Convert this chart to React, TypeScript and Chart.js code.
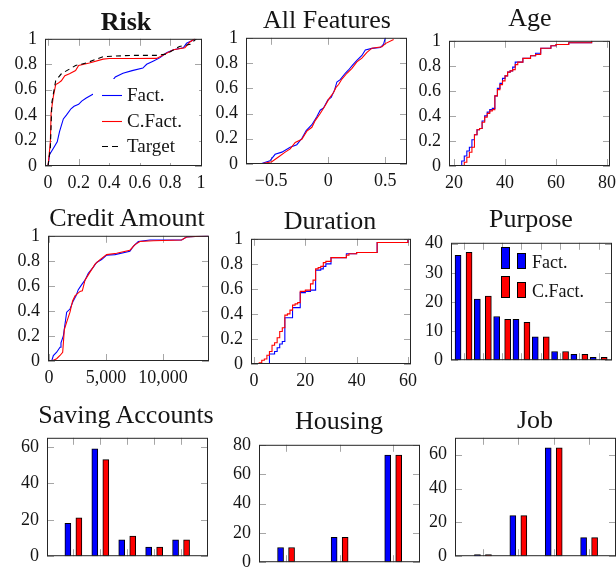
import React, { useEffect, useRef } from 'react';
import { Chart, registerables } from 'chart.js';

Chart.register(...registerables);

const SERIF = "'Liberation Serif', 'Times New Roman', serif";
const INK = '#151515';
const FRAME = '#262626';
const TICKMARK = '#a6a6a6';
const BLUE = '#0000ff';
const RED = '#ff0000';
const TARGET = '#000000';

const SERIES = ['Fact.', 'C.Fact.', 'Target'];

// ---------- Risk ----------
const riskFactX = [0, 0.01, 0.035, 0.06, 0.075, 0.1, 0.12, 0.15, 0.17, 0.2, 0.22, 0.25, 0.296, 0.42, 0.44, 0.49, 0.55, 0.62, 0.645, 0.69, 0.73, 0.775, 0.82, 0.885, 0.906, 0.95, 0.96];
const riskFactY = [0, 0.09, 0.14, 0.19, 0.27, 0.37, 0.4, 0.45, 0.47, 0.485, 0.51, 0.535, 0.566, 0.67, 0.7, 0.73, 0.75, 0.77, 0.8, 0.826, 0.85, 0.89, 0.914, 0.93, 0.965, 0.99, 1.0];
const riskCfX = [0, 0.015, 0.02, 0.035, 0.05, 0.065, 0.087, 0.11, 0.14, 0.18, 0.2, 0.27, 0.36, 0.4, 0.55, 0.71, 0.75, 0.82, 0.895, 0.93, 0.96];
const riskCfY = [0, 0.19, 0.42, 0.55, 0.64, 0.65, 0.67, 0.71, 0.725, 0.75, 0.79, 0.81, 0.84, 0.845, 0.845, 0.846, 0.87, 0.914, 0.93, 0.977, 1.0];
const riskTargetX = [0, 0.015, 0.025, 0.035, 0.05, 0.087, 0.18, 0.25, 0.36, 0.55, 0.71, 0.775, 0.86, 0.93, 0.97];
const riskTargetY = [0, 0.14, 0.5, 0.57, 0.67, 0.725, 0.79, 0.81, 0.86, 0.87, 0.87, 0.88, 0.94, 0.957, 1.0];
const riskXTicks = [0, 0.2, 0.4, 0.6, 0.8, 1];

// ---------- All Features ----------
const allFactX = [-0.596, -0.51, -0.465, -0.406, -0.333, -0.275, -0.23, -0.193, -0.143, -0.1, -0.07, -0.041, -0.003, 0.026, 0.056, 0.076, 0.105, 0.149, 0.178, 0.213, 0.251, 0.295, 0.325, 0.383, 0.456, 0.485, 0.5];
const allFactY = [0, 0.026, 0.077, 0.094, 0.133, 0.153, 0.204, 0.265, 0.311, 0.375, 0.426, 0.444, 0.508, 0.528, 0.587, 0.65, 0.668, 0.719, 0.745, 0.783, 0.821, 0.86, 0.903, 0.916, 0.923, 0.949, 1.0];
const allCfX = [-0.596, -0.494, -0.436, -0.377, -0.333, -0.289, -0.231, -0.187, -0.143, -0.114, -0.07, -0.026, 0.009, 0.047, 0.067, 0.091, 0.12, 0.164, 0.208, 0.251, 0.295, 0.339, 0.383, 0.471, 0.5, 0.573];
const allCfY = [0, 0.018, 0.056, 0.094, 0.12, 0.171, 0.196, 0.26, 0.291, 0.344, 0.4, 0.464, 0.52, 0.566, 0.605, 0.63, 0.673, 0.719, 0.758, 0.809, 0.839, 0.885, 0.918, 0.929, 0.954, 0.987];
const allXTicks = [-0.5, 0, 0.5];

// ---------- Age ----------
const ageFactX = [22, 23, 24, 25, 26, 27, 28, 29, 30, 31, 32, 33, 34, 35, 36, 37, 38, 39, 40, 41, 42, 43, 44, 47, 50, 52, 54, 58, 60, 65, 74];
const ageFactY = [0, 0.04, 0.08, 0.12, 0.15, 0.21, 0.25, 0.29, 0.3, 0.36, 0.4, 0.43, 0.45, 0.46, 0.56, 0.62, 0.66, 0.7, 0.72, 0.75, 0.76, 0.79, 0.83, 0.86, 0.88, 0.9, 0.94, 0.96, 0.97, 0.985, 1.0];
const ageCfX = [23.5, 24, 25, 26, 27, 28, 29, 30, 31, 32, 33, 34, 35, 36, 37, 38, 39, 40, 41, 42, 43, 44, 45, 47, 50, 52, 54, 58, 60, 65, 74];
const ageCfY = [0, 0.03, 0.07, 0.11, 0.15, 0.25, 0.29, 0.3, 0.35, 0.39, 0.42, 0.44, 0.45, 0.56, 0.61, 0.65, 0.68, 0.72, 0.75, 0.76, 0.77, 0.81, 0.83, 0.86, 0.88, 0.89, 0.94, 0.96, 0.97, 0.985, 1.0];
const ageXTicks = [20, 40, 60, 80];

// ---------- Credit Amount ----------
const creditFactX = [235, 380, 670, 965, 1050, 1257, 1550, 1840, 2130, 2370, 2570, 2870, 3160, 3450, 3890, 4180, 4620, 5060, 5790, 7100, 7400, 7840, 8860, 11640, 12080, 14000];
const creditFactY = [0, 0.044, 0.07, 0.11, 0.146, 0.2, 0.39, 0.415, 0.48, 0.52, 0.57, 0.61, 0.646, 0.7, 0.75, 0.787, 0.81, 0.846, 0.85, 0.877, 0.915, 0.954, 0.967, 0.967, 0.99, 1.0];
const creditCfX = [235, 670, 965, 1200, 1345, 1550, 1840, 2070, 2280, 2720, 2925, 3160, 3600, 4040, 4480, 5060, 5940, 7100, 7550, 7990, 9160, 11640, 12080, 14000];
const creditCfY = [0, 0.018, 0.044, 0.07, 0.25, 0.31, 0.39, 0.48, 0.52, 0.556, 0.56, 0.646, 0.71, 0.774, 0.81, 0.85, 0.86, 0.885, 0.93, 0.954, 0.96, 0.967, 0.99, 1.0];
const creditXTicks = [0, 5000, 10000];

// ---------- Duration ----------
const durFactX = [5.5, 6, 8, 9, 10, 11, 12, 15, 18, 20, 22, 24, 26, 27, 28, 30, 36, 40, 48, 60];
const durFactY = [0, 0.08, 0.1, 0.13, 0.16, 0.18, 0.37, 0.45, 0.57, 0.58, 0.59, 0.75, 0.76, 0.78, 0.8, 0.85, 0.88, 0.89, 0.97, 0.99];
const durCfX = [1.5, 2, 3, 4, 5, 6, 7, 8, 9, 10, 11, 12, 13, 14, 15, 16, 17, 18, 20, 22, 23, 24, 25, 26, 27, 28, 30, 36, 37, 40, 48, 60];
const durCfY = [0, 0.01, 0.03, 0.04, 0.07, 0.1, 0.15, 0.17, 0.21, 0.26, 0.29, 0.39, 0.4, 0.43, 0.47, 0.48, 0.49, 0.58, 0.59, 0.64, 0.67, 0.76, 0.77, 0.78, 0.81, 0.82, 0.85, 0.87, 0.88, 0.89, 0.97, 0.99];
const durXTicks = [0, 20, 40, 60];

const unitTicks = [0, 0.2, 0.4, 0.6, 0.8, 1];

// ---------- Bar panels ----------
const purposeFact = [36, 21, 15, 14, 8, 3, 2, 1];
const purposeCFact = [37, 22, 14, 13, 8, 3, 2, 1];
const purposeYTicks = [0, 10, 20, 30, 40];

const savingFact = [18, 59, 9, 5, 9];
const savingCFact = [21, 53, 11, 5, 9];
const savingYTicks = [0, 20, 40, 60];

const housingFact = [10, 17, 73];
const housingCFact = [10, 17, 73];
const housingYTicks = [0, 20, 40, 60, 80];

const jobFact = [1, 24, 64, 11];
const jobCFact = [1, 24, 64, 11];
const jobYTicks = [0, 20, 40, 60];

// ---------- layout constants ----------
const ML = 46;
const MT = 14;
const MR = 16;
const TICK_FONT = 18;
const TICK_LEN = 7;
const BAR_W = 6;
const BAR_HALF_GAP = 5.5;

type Box = { l: number; t: number; r: number; b: number };
type Cfg = {
  title: string;
  bold?: boolean;
  tx: number;
  ty: number;
  box: Box;
  kind: 'line' | 'bar';
  x: [number, number];
  y: [number, number];
  xTicks: number[];
  yTicks: number[];
  xLabels: boolean;
  xFmt: (v: number) => string;
  datasets: any[];
  legend?: (ctx: CanvasRenderingContext2D) => void;
};

const fmtPlain = (v: number) => (v < 0 ? '\u2212' + String(-v) : String(v));
const fmtThousands = (v: number) => v.toLocaleString('en-US');

const pts = (xs: number[], ys: number[]) => xs.map((x, i) => ({ x, y: ys[i] }));

function lineDs(label: string, xs: number[], ys: number[], color: string, order: number, extra: any = {}) {
  return {
    label,
    data: pts(xs, ys),
    borderColor: color,
    backgroundColor: color,
    borderWidth: 1.1,
    pointRadius: 0,
    fill: false,
    tension: 0,
    order,
    ...extra,
  };
}

function barSets(fact: number[], cfact: number[], box: Box, x: [number, number]) {
  const off = (BAR_HALF_GAP * (x[1] - x[0])) / (box.r - box.l);
  const mk = (label: string, vals: number[], color: string, sign: number) => ({
    label,
    data: vals.map((v, i) => ({ x: i + sign * off, y: v })),
    backgroundColor: color,
    borderColor: '#000',
    borderWidth: 1,
    borderSkipped: false,
    barThickness: BAR_W,
    grouped: false,
  });
  return [mk(SERIES[0], fact, BLUE, -1), mk(SERIES[1], cfact, RED, 1)];
}

const riskLegend = (ctx: CanvasRenderingContext2D) => {
  ctx.fillStyle = '#fff';
  ctx.fillRect(93, 79, 106, 84);
  const rows: [string, string, number[], number][] = [
    [SERIES[0], BLUE, [], 95],
    [SERIES[1], RED, [], 121],
    [SERIES[2], TARGET, [6, 4], 146],
  ];
  ctx.font = `19px ${SERIF}`;
  ctx.textBaseline = 'alphabetic';
  ctx.textAlign = 'left';
  for (const [label, color, dash, y] of rows) {
    ctx.strokeStyle = color;
    ctx.lineWidth = 1.1;
    ctx.setLineDash(dash);
    ctx.beginPath();
    ctx.moveTo(102, y + 0.5);
    ctx.lineTo(122, y + 0.5);
    ctx.stroke();
    ctx.setLineDash([]);
    ctx.fillStyle = INK;
    ctx.fillText(label, 127, y + 6);
  }
};

const purposeLegend = (ctx: CanvasRenderingContext2D) => {
  const rows: [string, string, number][] = [
    [SERIES[0], BLUE, 247],
    [SERIES[1], RED, 276],
  ];
  ctx.font = `18px ${SERIF}`;
  ctx.textBaseline = 'alphabetic';
  ctx.textAlign = 'left';
  for (const [label, color, top] of rows) {
    ctx.fillStyle = color;
    ctx.strokeStyle = '#000';
    ctx.lineWidth = 1;
    ctx.fillRect(501, top, 9, 22);
    ctx.strokeRect(501.5, top + 0.5, 8, 21);
    ctx.fillRect(517, top + 6, 9, 16);
    ctx.strokeRect(517.5, top + 6.5, 8, 15);
    ctx.fillStyle = INK;
    ctx.fillText(label, 532, top + 21);
  }
};

const riskBox: Box = { l: 45, t: 34, r: 202, b: 166 };
const allBox: Box = { l: 246, t: 33, r: 407, b: 164 };
const ageBox: Box = { l: 449, t: 36, r: 610, b: 166 };
const creditBox: Box = { l: 48, t: 231, r: 209, b: 361 };
const durBox: Box = { l: 251, t: 234, r: 411, b: 364 };
const purposeBox: Box = { l: 451, t: 238, r: 612, b: 367 };
const savingBox: Box = { l: 47, t: 433, r: 208, b: 563 };
const housingBox: Box = { l: 259, t: 440, r: 420, b: 569 };
const jobBox: Box = { l: 455, t: 433, r: 616, b: 563 };

const purposeX: [number, number] = [-0.65, 7.69];
const savingX: [number, number] = [-0.98, 5.0];
const housingX: [number, number] = [-0.505, 2.5];
const jobX: [number, number] = [-0.79, 3.76];

const PANELS: Cfg[] = [
  {
    title: 'Risk', bold: true, tx: 126, ty: 20, box: riskBox, kind: 'line',
    x: [-0.02, 1.007], y: [0, 1], xTicks: riskXTicks, yTicks: unitTicks, xLabels: true, xFmt: fmtPlain,
    datasets: [
      lineDs(SERIES[0], riskFactX, riskFactY, BLUE, 2),
      lineDs(SERIES[1], riskCfX, riskCfY, RED, 1),
      lineDs(SERIES[2], riskTargetX, riskTargetY, TARGET, 0, { borderDash: [5, 4] }),
    ],
    legend: riskLegend,
  },
  {
    title: 'All Features', tx: 327, ty: 18, box: allBox, kind: 'line',
    x: [-0.72, 0.69], y: [0, 1], xTicks: allXTicks, yTicks: unitTicks, xLabels: true, xFmt: fmtPlain,
    datasets: [lineDs(SERIES[0], allFactX, allFactY, BLUE, 2), lineDs(SERIES[1], allCfX, allCfY, RED, 1)],
  },
  {
    title: 'Age', tx: 530, ty: 16, box: ageBox, kind: 'line',
    x: [18, 81.2], y: [0, 1], xTicks: ageXTicks, yTicks: unitTicks, xLabels: true, xFmt: fmtPlain,
    datasets: [
      lineDs(SERIES[0], ageFactX, ageFactY, BLUE, 2, { stepped: true }),
      lineDs(SERIES[1], ageCfX, ageCfY, RED, 1, { stepped: true }),
    ],
  },
  {
    title: 'Credit Amount', tx: 127, ty: 216, box: creditBox, kind: 'line',
    x: [-90, 14050], y: [0, 1], xTicks: creditXTicks, yTicks: unitTicks, xLabels: true, xFmt: fmtThousands,
    datasets: [lineDs(SERIES[0], creditFactX, creditFactY, BLUE, 2), lineDs(SERIES[1], creditCfX, creditCfY, RED, 1)],
  },
  {
    title: 'Duration', tx: 330, ty: 219, box: durBox, kind: 'line',
    x: [-1.2, 61.2], y: [0, 1], xTicks: durXTicks, yTicks: unitTicks, xLabels: true, xFmt: fmtPlain,
    datasets: [
      lineDs(SERIES[0], durFactX, durFactY, BLUE, 2, { stepped: true }),
      lineDs(SERIES[1], durCfX, durCfY, RED, 1, { stepped: true }),
    ],
  },
  {
    title: 'Purpose', tx: 531, ty: 217, box: purposeBox, kind: 'bar',
    x: purposeX, y: [0, 40.3], xTicks: purposeFact.map((_, i) => i), yTicks: purposeYTicks, xLabels: false, xFmt: fmtPlain,
    datasets: barSets(purposeFact, purposeCFact, purposeBox, purposeX),
    legend: purposeLegend,
  },
  {
    title: 'Saving Accounts', tx: 126, ty: 413, box: savingBox, kind: 'bar',
    x: savingX, y: [0, 65], xTicks: savingFact.map((_, i) => i), yTicks: savingYTicks, xLabels: false, xFmt: fmtPlain,
    datasets: barSets(savingFact, savingCFact, savingBox, savingX),
  },
  {
    title: 'Housing', tx: 339, ty: 419, box: housingBox, kind: 'bar',
    x: housingX, y: [0, 80], xTicks: housingFact.map((_, i) => i), yTicks: housingYTicks, xLabels: false, xFmt: fmtPlain,
    datasets: barSets(housingFact, housingCFact, housingBox, housingX),
  },
  {
    title: 'Job', tx: 535, ty: 418, box: jobBox, kind: 'bar',
    x: jobX, y: [0, 70], xTicks: jobFact.map((_, i) => i), yTicks: jobYTicks, xLabels: false, xFmt: fmtPlain,
    datasets: barSets(jobFact, jobCFact, jobBox, jobX),
  },
];

function decor(cfg: Cfg, ox: number, oy: number) {
  return {
    id: 'panelDecor',
    beforeDatasetsDraw(chart: any) {
      const { ctx, chartArea: a, scales } = chart;
      ctx.save();
      ctx.strokeStyle = TICKMARK;
      ctx.lineWidth = 1;
      ctx.beginPath();
      for (const t of scales.x.ticks) {
        const p = Math.round(scales.x.getPixelForValue(t.value)) + 0.5;
        ctx.moveTo(p, a.top);
        ctx.lineTo(p, a.top + TICK_LEN);
        ctx.moveTo(p, a.bottom);
        ctx.lineTo(p, a.bottom - TICK_LEN);
      }
      for (const t of scales.y.ticks) {
        const p = Math.round(scales.y.getPixelForValue(t.value)) + 0.5;
        ctx.moveTo(a.left, p);
        ctx.lineTo(a.left + TICK_LEN, p);
        ctx.moveTo(a.right, p);
        ctx.lineTo(a.right - TICK_LEN, p);
      }
      ctx.stroke();
      ctx.restore();
    },
    afterDatasetsDraw(chart: any) {
      const { ctx, chartArea: a } = chart;
      ctx.save();
      ctx.strokeStyle = FRAME;
      ctx.lineWidth = 1;
      ctx.strokeRect(a.left + 0.5, a.top + 0.5, a.right - a.left - 1, a.bottom - a.top - 1);
      if (cfg.legend) {
        ctx.translate(-ox, -oy);
        cfg.legend(ctx);
      }
      ctx.restore();
    },
  };
}

function Panel({ cfg }: { cfg: Cfg }) {
  const ref = useRef<HTMLCanvasElement | null>(null);
  const { l, t, r, b } = cfg.box;
  const mb = cfg.kind === 'bar' ? 12 : 34;
  const ox = l - ML;
  const oy = t - MT;
  const W = r - l + ML + MR;
  const H = b - t + MT + mb;

  useEffect(() => {
    const c = ref.current;
    if (!c) return;
    const tickFont = { family: SERIF, size: TICK_FONT };
    const chart = new Chart(c, {
      type: cfg.kind,
      data: { datasets: cfg.datasets },
      options: {
        animation: false,
        responsive: false,
        layout: { padding: { left: 0, top: MT, right: MR, bottom: 0 } },
        plugins: { legend: { display: false }, tooltip: { enabled: false }, title: { display: false } },
        scales: {
          x: {
            type: 'linear',
            min: cfg.x[0],
            max: cfg.x[1],
            bounds: 'data',
            offset: false,
            grid: { display: false, drawTicks: false, offset: false },
            border: { display: false },
            ticks: {
              display: cfg.xLabels,
              font: tickFont,
              color: INK,
              padding: 6,
              maxRotation: 0,
              minRotation: 0,
              autoSkip: false,
              callback: (v: any) => cfg.xFmt(Number(v)),
            },
            afterBuildTicks: (s: any) => {
              s.ticks = cfg.xTicks.map((v) => ({ value: v }));
            },
            afterFit: (s: any) => {
              s.height = mb;
            },
          },
          y: {
            type: 'linear',
            min: cfg.y[0],
            max: cfg.y[1],
            bounds: 'data',
            grid: { display: false, drawTicks: false },
            border: { display: false },
            ticks: {
              font: tickFont,
              color: INK,
              padding: 8,
              autoSkip: false,
              callback: (v: any) => fmtPlain(Number(v)),
            },
            afterBuildTicks: (s: any) => {
              s.ticks = cfg.yTicks.map((v) => ({ value: v }));
            },
            afterFit: (s: any) => {
              s.width = ML;
            },
          },
        },
      } as any,
      plugins: [decor(cfg, ox, oy)],
    });
    return () => chart.destroy();
  }, []);

  return (
    <>
      <canvas
        ref={ref}
        width={W}
        height={H}
        style={{ position: 'absolute', left: ox, top: oy, width: W, height: H }}
      />
      <div
        style={{
          position: 'absolute',
          left: cfg.tx - 150,
          width: 300,
          top: cfg.ty - 13,
          height: 26,
          lineHeight: '26px',
          textAlign: 'center',
          font: `${cfg.bold ? 'bold ' : ''}26px ${SERIF}`,
          color: INK,
          whiteSpace: 'nowrap',
        }}
      >
        {cfg.title}
      </div>
    </>
  );
}

export default function App() {
  return (
    <div
      style={{
        position: 'absolute',
        left: 0,
        top: 0,
        width: 616,
        height: 573,
        overflow: 'hidden',
        background: '#fff',
      }}
    >
      {PANELS.map((cfg) => (
        <Panel key={cfg.title} cfg={cfg} />
      ))}
    </div>
  );
}
